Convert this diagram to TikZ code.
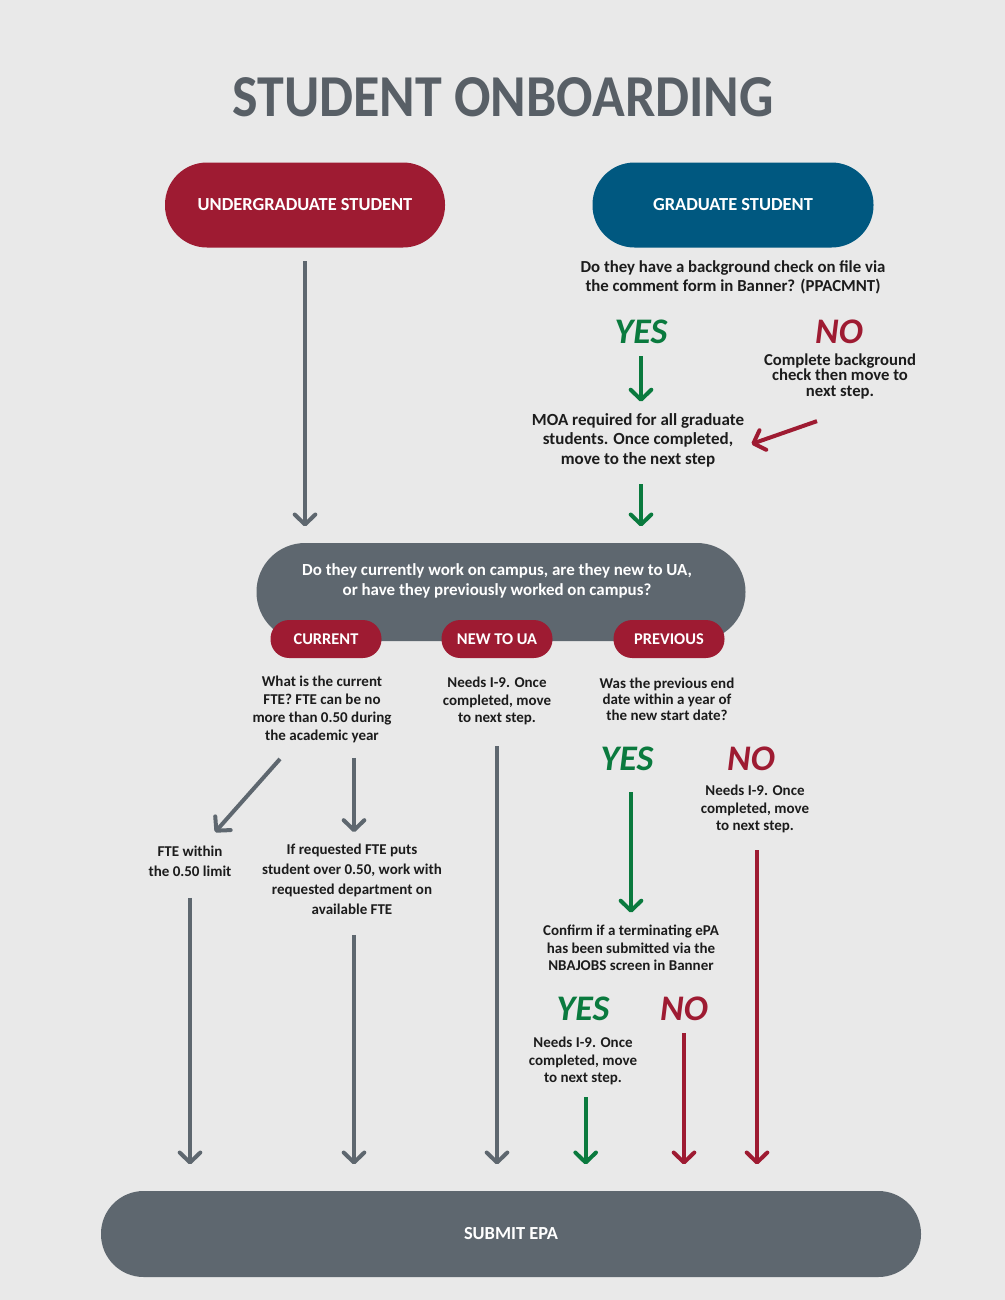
\documentclass[tikz,border=0pt]{standalone}
\usepackage{fontspec}
\usepackage{graphicx}
\setmainfont{Carlito}
\usetikzlibrary{arrows.meta,calc}

\definecolor{bgcol}{RGB}{233,233,233}
\definecolor{crimson}{RGB}{158,27,50}
\definecolor{ocean}{RGB}{0,88,128}
\definecolor{slate}{RGB}{94,103,111}
\definecolor{leaf}{RGB}{10,122,62}
\definecolor{ink}{RGB}{28,28,28}
\definecolor{titlegray}{RGB}{88,95,102}

\newcommand\txtsize[2]{\bfseries\fontsize{#1}{#2}\selectfont}

\tikzset{every picture/.style={line width=0.75pt}}
\tikzset{
  pill/.style={fill=#1, text=white, font=\txtsize{13.8}{16}, inner sep=0.75pt},
  tag/.style={fill=crimson, text=white, font=\txtsize{12.3}{14}, minimum width=83.25pt, minimum height=28.5pt, rounded corners=14pt, inner sep=0.75pt},
  note/.style={text=ink, align=center, inner sep=0.75pt, font=\txtsize{11.25}{13.5}},
  yeslabel/.style={text=leaf, inner sep=0.75pt, font=\bfseries\itshape\fontsize{27}{27}\selectfont},
  nolabel/.style={yeslabel, text=crimson},
  flow/.style={draw=#1, line width=3pt, -{Straight Barb[round,length=7.5pt,width=15.5pt]}},
}

\begin{document}
\begin{tikzpicture}[x=0.75pt,y=0.75pt,yscale=-1,xscale=1]
	%set diagram to 1005 x 1300
	\fill[bgcol] (0,0) rectangle (1005,1300);

	% Text Node
	\node[text=titlegray, font=\txtsize{40.5}{41}, inner sep=0.75pt] (title) at (503,97) {\scalebox{1}[1.1]{STUDENT ONBOARDING}};

	%Shape: Pill
	\node[pill=crimson, minimum width=210pt, minimum height=63.75pt, rounded corners=31.5pt] (ug) at (305,205) {UNDERGRADUATE STUDENT};
	%Shape: Pill
	\node[pill=ocean, minimum width=210.75pt, minimum height=63.75pt, rounded corners=31.5pt] (grad) at (733,205) {GRADUATE STUDENT};
	%Shape: Pill
	\node[pill=slate, minimum width=366.75pt, minimum height=73.5pt, rounded corners=36.5pt] (q) at (501,592) {};
	%Shape: Pill
	\node[pill=slate, minimum width=615pt, minimum height=64.5pt, rounded corners=32pt] (submit) at (511,1234) {SUBMIT EPA};
	%Shape: Tags
	\node[tag] (cur) at (326,639) {CURRENT};
	\node[tag] (new) at (497,639) {NEW TO UA};
	\node[tag] (prev) at (669,639) {PREVIOUS};

	% Text Node
	\node[note, text=white, font=\txtsize{12.7}{15}] (qtext) at (497,581) {Do they currently work on campus, are they new to UA,\\or have they previously worked on campus?};
	% Text Node
	\node[note, font=\txtsize{12.6}{14.25}] (gradq) at (733,277) {Do they have a background check on file via\\the comment form in Banner? (PPACMNT)};
	% Text Node
	\node[yeslabel] (yes1) at (641,332) {YES};
	\node[nolabel] (no1) at (839,332) {NO};
	% Text Node
	\node[note, font=\txtsize{12.5}{11.6}] (noT) at (840,376) {Complete background\\check then move to\\next step.};
	% Text Node
	\node[note, font=\txtsize{12.75}{14.6}] (moa) at (638,440) {MOA required for all graduate\\students. Once completed,\\move to the next step};
	% Text Node
	\node[note] (curT) at (322,709) {What is the current\\FTE? FTE can be no\\more than 0.50 during\\the academic year};
	% Text Node
	\node[note, font=\txtsize{11.25}{13.1}] (newT) at (497,701) {Needs I-9. Once\\completed, move\\to next step.};
	% Text Node
	\node[note, font=\txtsize{11.25}{12}] (prevT) at (667,699) {Was the previous end\\date within a year of\\the new start date?};
	% Text Node
	\node[note, font=\txtsize{11.25}{15}] (fteOk) at (190,861) {FTE within\\the 0.50 limit};
	% Text Node
	\node[note, font=\txtsize{11.25}{15}] (fteOver) at (352,879) {If requested FTE puts\\student over 0.50, work with\\requested department on\\available FTE};
	% Text Node
	\node[yeslabel] (yes2) at (627,759) {YES};
	\node[nolabel] (no2) at (751,759) {NO};
	% Text Node
	\node[note, font=\txtsize{11.25}{13.1}] (needs2) at (755,809) {Needs I-9. Once\\completed, move\\to next step.};
	% Text Node
	\node[note, font=\txtsize{11.25}{13.1}] (confirm) at (631,948) {Confirm if a terminating ePA\\has been submitted via the\\NBAJOBS screen in Banner};
	% Text Node
	\node[yeslabel] (yes3) at (583,1009) {YES};
	\node[nolabel] (no3) at (684,1009) {NO};
	% Text Node
	\node[note, font=\txtsize{11.25}{13.1}] (needs3) at (583,1061) {Needs I-9. Once\\completed, move\\to next step.};

	%Straight Lines
	\draw[flow=slate, shorten <=9.75pt, shorten >=12pt] (ug.south) -- (ug.south |- q.north);
	\draw[flow=leaf, shorten <=8.25pt, shorten >=7.5pt] (yes1.south) -- (yes1.south |- moa.north);
	\draw[flow=leaf, shorten <=12pt, shorten >=12pt] (yes1.south |- moa.south) -- (yes1.south |- q.north);
	\draw[flow=crimson] ($(noT.south)+(-23,21)$) -- ($(moa.east)+(6,4)$);
	\draw[flow=slate] ($(curT.south)+(-42,15)$) -- ($(fteOk.north)+(25,-12)$);
	\draw[flow=slate, shorten <=10.5pt, shorten >=7.5pt] ([xshift=1.5pt]fteOver.north |- curT.south) -- ([xshift=1.5pt]fteOver.north);
	\draw[flow=slate, shorten <=15pt, shorten >=19.5pt] (fteOk.south) -- (fteOk.south |- submit.north);
	\draw[flow=slate, shorten <=14.25pt, shorten >=19.5pt] ([xshift=1.5pt]fteOver.south) -- ([xshift=1.5pt]fteOver.south |- submit.north);
	\draw[flow=slate, shorten <=15pt, shorten >=19.5pt] (newT.south) -- (newT.south |- submit.north);
	\draw[flow=leaf, shorten <=15pt, shorten >=8.25pt] (confirm.north |- yes2.south) -- (confirm.north);
	\draw[flow=crimson, shorten <=12pt, shorten >=19.5pt] ([xshift=1.5pt]needs2.south) -- ([xshift=1.5pt]needs2.south |- submit.north);
	\draw[flow=leaf, shorten <=8.25pt, shorten >=19.5pt] ([xshift=2pt]needs3.south) -- ([xshift=2pt]needs3.south |- submit.north);
	\draw[flow=crimson, shorten <=8.25pt, shorten >=19.5pt] (no3.south) -- (no3.south |- submit.north);

\end{tikzpicture}
\end{document}
